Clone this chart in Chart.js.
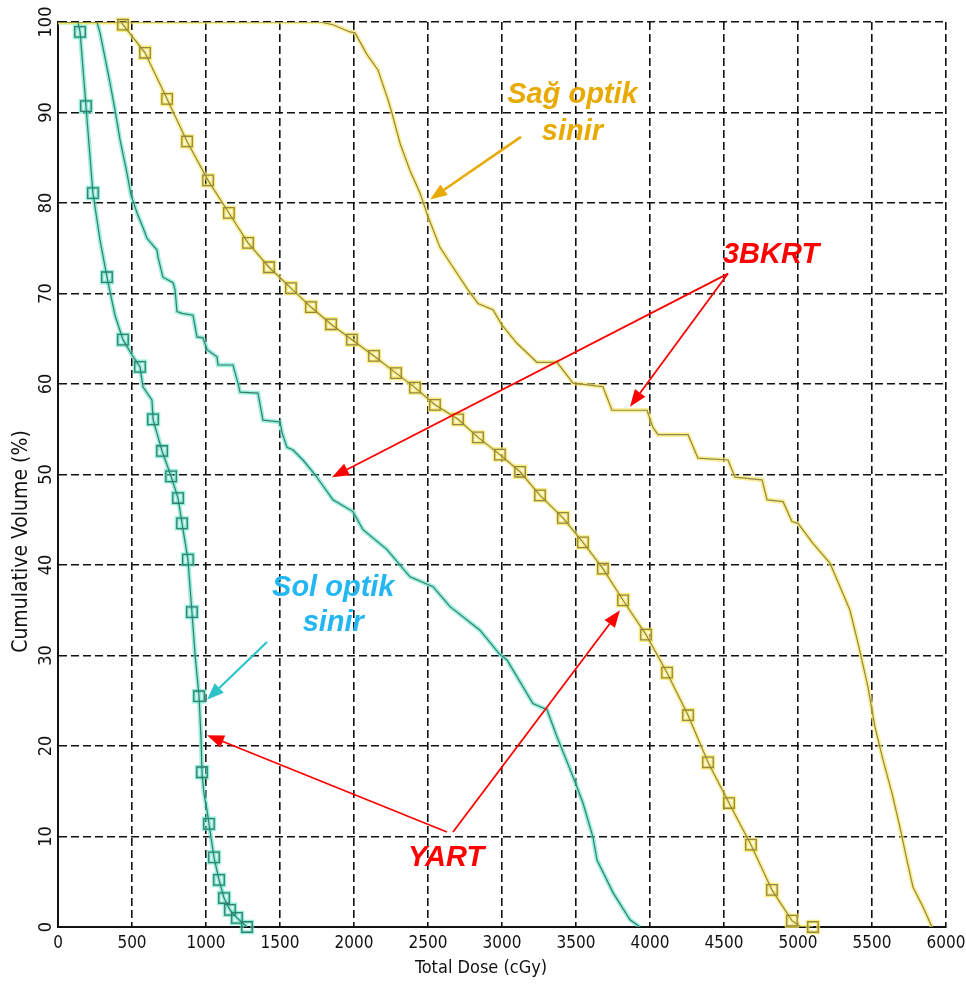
<!DOCTYPE html>
<html>
<head>
<meta charset="utf-8">
<script src="https://cdn.jsdelivr.net/npm/chart.js@4.4.1/dist/chart.umd.min.js"></script>
<style>
  html, body { margin: 0; padding: 0; background: #fff; }
  #wrap { width: 966px; height: 988px; }
</style>
</head>
<body>
<div id="wrap"><canvas id="dvhChart" width="966" height="988"></canvas></div>
<script>
// x ticks (cGy) and y ticks (%)
const doseTicks = [0, 500, 1000, 1500, 2000, 2500, 3000, 3500, 4000, 4500, 5000, 5500, 6000];
const volumeTicks = [0, 10, 20, 30, 40, 50, 60, 70, 80, 90, 100];

// Sol optik sinir - YART (teal, square markers)
const solYartDose = [0, 135, 149, 189, 236, 284, 331, 385, 439, 500, 554, 574, 635, 642, 703, 764, 811, 838, 878, 905, 926, 953, 966, 973, 986, 1007, 1020, 1054, 1088, 1122, 1162, 1209, 1277];
const solYartVol = [100, 100, 98.9, 90.7, 81.1, 75.9, 71.8, 67.6, 64.9, 63.2, 61.9, 59.7, 58.2, 56.1, 52.6, 49.8, 47.4, 44.6, 40.6, 34.8, 30.1, 25.5, 21.0, 17.1, 14.8, 12.9, 11.4, 7.7, 5.2, 3.2, 1.9, 1.0, 0];
const solYartMarkDose = [149, 189, 236, 331, 439, 554, 642, 703, 764, 811, 838, 878, 905, 953, 973, 1020, 1054, 1088, 1122, 1162, 1209, 1277];
const solYartMarkVol = [98.9, 90.7, 81.1, 71.8, 64.9, 61.9, 56.1, 52.6, 49.8, 47.4, 44.6, 40.6, 34.8, 25.5, 17.1, 11.4, 7.7, 5.2, 3.2, 1.9, 1.0, 0];

// Sol optik sinir - 3BKRT (teal, no markers)
const sol3dDose = [0, 263, 284, 351, 385, 419, 466, 493, 534, 574, 601, 669, 676, 709, 777, 791, 804, 838, 912, 939, 980, 1007, 1074, 1081, 1182, 1216, 1230, 1351, 1385, 1500, 1514, 1547, 1588, 1655, 1736, 1858, 1993, 2061, 2223, 2378, 2534, 2649, 2851, 2986, 3034, 3209, 3304, 3372, 3480, 3547, 3615, 3642, 3750, 3865, 3932];
const sol3dVol = [100, 100, 98.8, 93.3, 90.3, 87.0, 83.3, 80.9, 78.9, 77.3, 76.1, 74.8, 74.0, 71.8, 71.2, 70.4, 68.0, 67.8, 67.6, 65.2, 65.1, 63.8, 63.0, 62.1, 62.1, 60.1, 59.1, 59.0, 56.0, 55.8, 54.6, 53.0, 52.7, 51.6, 50.0, 47.2, 45.9, 43.9, 41.7, 38.7, 37.6, 35.4, 32.8, 30.1, 29.5, 24.7, 24.0, 21.0, 16.6, 13.7, 9.9, 7.4, 3.8, 0.8, 0];

// Sag optik sinir - YART (yellow, square markers)
const sagYartDose = [0, 430, 439, 588, 737, 872, 1014, 1155, 1284, 1426, 1574, 1709, 1845, 1986, 2135, 2284, 2412, 2547, 2703, 2838, 2986, 3122, 3257, 3412, 3547, 3682, 3818, 3973, 4115, 4257, 4392, 4534, 4682, 4824, 4959, 5020, 5101];
const sagYartVol = [100, 100, 99.7, 96.6, 91.5, 86.8, 82.5, 78.9, 75.6, 72.9, 70.6, 68.5, 66.6, 64.9, 63.1, 61.2, 59.6, 57.7, 56.1, 54.1, 52.2, 50.3, 47.7, 45.2, 42.5, 39.6, 36.1, 32.3, 28.1, 23.4, 18.2, 13.7, 9.1, 4.1, 0.7, 0, 0];
const sagYartMarkDose = [439, 588, 737, 872, 1014, 1155, 1284, 1426, 1574, 1709, 1845, 1986, 2135, 2284, 2412, 2547, 2703, 2838, 2986, 3122, 3257, 3412, 3547, 3682, 3818, 3973, 4115, 4257, 4392, 4534, 4682, 4824, 4959, 5101];
const sagYartMarkVol = [99.7, 96.6, 91.5, 86.8, 82.5, 78.9, 75.6, 72.9, 70.6, 68.5, 66.6, 64.9, 63.1, 61.2, 59.6, 57.7, 56.1, 54.1, 52.2, 50.3, 47.7, 45.2, 42.5, 39.6, 36.1, 32.3, 28.1, 23.4, 18.2, 13.7, 9.1, 4.1, 0.7, 0];

// Sag optik sinir - 3BKRT (yellow, no markers)
const sag3dDose = [0, 1770, 1858, 1973, 2007, 2088, 2162, 2230, 2257, 2311, 2378, 2446, 2500, 2581, 2669, 2770, 2838, 2939, 3000, 3101, 3236, 3372, 3480, 3682, 3743, 3980, 4020, 4054, 4257, 4324, 4527, 4574, 4757, 4791, 4899, 4959, 5000, 5101, 5216, 5284, 5351, 5405, 5473, 5520, 5574, 5635, 5689, 5736, 5777, 5845, 5905];
const sag3dVol = [100, 100, 99.7, 98.9, 98.8, 96.4, 94.7, 91.4, 89.9, 86.6, 83.6, 81.1, 78.5, 75.1, 72.9, 70.4, 68.9, 68.2, 66.5, 64.5, 62.4, 62.4, 60.1, 59.7, 57.1, 57.1, 55.2, 54.4, 54.4, 51.8, 51.6, 49.7, 49.4, 47.2, 47.0, 44.8, 44.6, 42.4, 40.2, 37.6, 35.0, 31.4, 26.5, 22.1, 18.5, 14.8, 11.0, 7.4, 4.4, 2.2, 0];

// Annotation texts and arrows, placed in data units (dose, volume)
const notes = [
  { lines: ['Sağ optik', 'sinir'], x: 3476, y: [91.9, 87.8], color: '#E8A900' },
  { lines: ['3BKRT'], x: 4818, y: [74.3], color: '#FF0000' },
  { lines: ['Sol optik', 'sinir'], x: 1860, y: [37.5, 33.6], color: '#22B7F2' },
  { lines: ['YART'], x: 2622, y: [7.6], color: '#FF0000' }
];
const arrows = [
  { from: [3128, 87.3], to: [2514, 80.4], color: '#E8A900', width: 2.6 },
  { from: [4527, 72.2], to: [1851, 49.7], color: '#FF0000', width: 1.8 },
  { from: [4527, 72.2], to: [3865, 57.5], color: '#FF0000', width: 1.8 },
  { from: [2628, 10.5], to: [1007, 21.2], color: '#FF0000', width: 1.8 },
  { from: [2669, 10.5], to: [3797, 35.0], color: '#FF0000', width: 1.8 },
  { from: [1412, 31.5], to: [1007, 25.1], color: '#2CC3C8', width: 2.2 }
];

const TEAL = '#357F6E', TEAL_HALO = 'rgba(90,228,196,0.6)';
const GOLD = '#948745', GOLD_HALO = 'rgba(246,230,95,0.65)';

function pts(xs, ys) {
  return xs.map((v, i) => ({ x: v, y: ys[i] }));
}

function lineSet(xs, ys, color, width, order) {
  return {
    data: pts(xs, ys),
    showLine: true,
    borderColor: color,
    borderWidth: width,
    pointRadius: 0,
    tension: 0,
    order: order
  };
}

function markSet(xs, ys, color, width, order) {
  return {
    data: pts(xs, ys),
    showLine: false,
    pointStyle: 'rect',
    pointRadius: 7.4,
    pointBorderColor: color,
    pointBorderWidth: width,
    pointBackgroundColor: 'rgba(0,0,0,0)',
    clip: false,
    order: order
  };
}

function drawArrow(ctx, x1, y1, x2, y2, color, width) {
  const ang = Math.atan2(y2 - y1, x2 - x1);
  const headLen = 17, headW = 6.5;
  const bx = x2 - headLen * Math.cos(ang), by = y2 - headLen * Math.sin(ang);
  ctx.save();
  ctx.strokeStyle = color;
  ctx.fillStyle = color;
  ctx.lineWidth = width;
  ctx.beginPath();
  ctx.moveTo(x1, y1);
  ctx.lineTo(bx, by);
  ctx.stroke();
  ctx.beginPath();
  ctx.moveTo(x2, y2);
  ctx.lineTo(bx + headW * Math.sin(ang), by - headW * Math.cos(ang));
  ctx.lineTo(bx - headW * Math.sin(ang), by + headW * Math.cos(ang));
  ctx.closePath();
  ctx.fill();
  ctx.restore();
}

const FONT = "'DejaVu Sans Condensed', 'DejaVu Sans', sans-serif";

const extrasPlugin = {
  id: 'extras',
  afterDatasetsDraw(chart) {
    const { ctx, chartArea } = chart;
    const xs = chart.scales.x, ys = chart.scales.y;

    // rotated y tick labels
    ctx.save();
    ctx.fillStyle = '#111';
    ctx.font = '18px ' + FONT;
    ctx.textAlign = 'center';
    ctx.textBaseline = 'middle';
    volumeTicks.forEach(v => {
      ctx.save();
      ctx.translate(chartArea.left - 12, ys.getPixelForValue(v));
      ctx.rotate(-Math.PI / 2);
      ctx.fillText(String(v), 0, 0);
      ctx.restore();
    });

    // axis titles
    ctx.font = '21px ' + FONT;
    ctx.save();
    ctx.translate(chartArea.left - 36, (chartArea.top + chartArea.bottom) / 2 + 67);
    ctx.rotate(-Math.PI / 2);
    ctx.fillText('Cumulative Volume (%)', 0, 0);
    ctx.restore();
    ctx.font = '18px ' + FONT;
    ctx.fillText('Total Dose (cGy)', (chartArea.left + chartArea.right) / 2 - 21, chartArea.bottom + 41);
    ctx.restore();

    // arrows
    arrows.forEach(a => {
      drawArrow(ctx,
        xs.getPixelForValue(a.from[0]), ys.getPixelForValue(a.from[1]),
        xs.getPixelForValue(a.to[0]), ys.getPixelForValue(a.to[1]),
        a.color, a.width);
    });

    // labels
    ctx.save();
    ctx.font = "italic bold 29px 'Liberation Sans', Arial, sans-serif";
    ctx.textAlign = 'center';
    ctx.textBaseline = 'middle';
    notes.forEach(n => {
      ctx.fillStyle = n.color;
      n.lines.forEach((t, i) => {
        ctx.fillText(t, xs.getPixelForValue(n.x), ys.getPixelForValue(n.y[i]));
      });
    });
    ctx.restore();
  }
};

const gridOpts = { color: '#111', lineWidth: 1.6, drawTicks: false };
const borderOpts = { display: true, color: '#111', width: 2, dash: [8, 4] };

new Chart(document.getElementById('dvhChart'), {
  type: 'scatter',
  data: {
    datasets: [
      markSet(sagYartMarkDose, sagYartMarkVol, GOLD, 1.3, 1),
      markSet(solYartMarkDose, solYartMarkVol, TEAL, 1.3, 1),
      lineSet(sag3dDose, sag3dVol, GOLD, 1.2, 2),
      lineSet(sagYartDose, sagYartVol, GOLD, 1.2, 2),
      lineSet(sol3dDose, sol3dVol, TEAL, 1.2, 2),
      lineSet(solYartDose, solYartVol, TEAL, 1.2, 2),
      markSet(sagYartMarkDose, sagYartMarkVol, 'rgba(246,228,85,0.75)', 4, 3),
      markSet(solYartMarkDose, solYartMarkVol, 'rgba(90,228,196,0.65)', 4, 3),
      lineSet(sag3dDose, sag3dVol, GOLD_HALO, 4.5, 4),
      lineSet(sagYartDose, sagYartVol, GOLD_HALO, 4.5, 4),
      lineSet(sol3dDose, sol3dVol, TEAL_HALO, 4.5, 4),
      lineSet(solYartDose, solYartVol, TEAL_HALO, 4.5, 4)
    ]
  },
  options: {
    responsive: false,
    animation: false,
    layout: { padding: { top: 22, right: 20, left: 0, bottom: 0 } },
    plugins: {
      legend: { display: false },
      tooltip: { enabled: false }
    },
    scales: {
      x: {
        type: 'linear',
        min: 0,
        max: 6000,
        afterBuildTicks: scale => { scale.ticks = doseTicks.map(v => ({ value: v })); },
        ticks: {
          color: '#111',
          padding: 6,
          maxRotation: 0,
          callback: v => String(v),
          font: { family: FONT, size: 17 }
        },
        grid: gridOpts,
        border: borderOpts,
        afterFit: scale => {
          scale.height = 61;
          scale.paddingLeft = 0;
          scale.paddingRight = 0;
        }
      },
      y: {
        type: 'linear',
        min: 0,
        max: 100,
        afterBuildTicks: scale => { scale.ticks = volumeTicks.map(v => ({ value: v })); },
        ticks: { display: false },
        grid: gridOpts,
        border: borderOpts,
        afterFit: scale => { scale.width = 58; }
      }
    }
  },
  plugins: [extrasPlugin]
});
</script>
</body>
</html>
